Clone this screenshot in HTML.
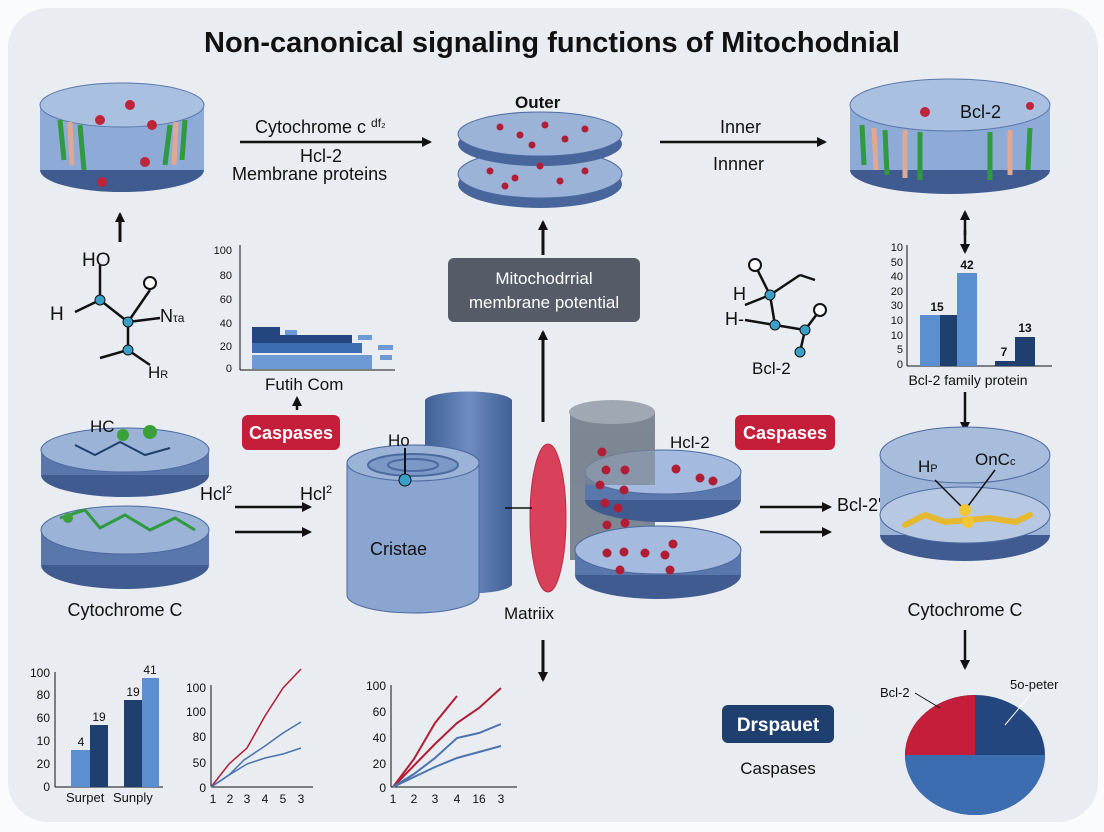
<!DOCTYPE html>
<html><head><meta charset="utf-8"><style>
html,body{margin:0;padding:0;background:#fafbfc;}
svg{display:block;font-family:"Liberation Sans",sans-serif;}
</style></head><body>
<svg width="1104" height="832" viewBox="0 0 1104 832" xmlns="http://www.w3.org/2000/svg">
<defs>
<marker id="ah" markerWidth="10" markerHeight="10" refX="8" refY="5" orient="auto" markerUnits="userSpaceOnUse"><path d="M0,0 L10,5 L0,10 z" fill="#111"/></marker>
<linearGradient id="cyl" x1="0" x2="1"><stop offset="0" stop-color="#3f5f96"/><stop offset="0.5" stop-color="#6e8cc0"/><stop offset="1" stop-color="#3f5f96"/></linearGradient>
</defs>
<rect x="8" y="8" width="1090" height="814" rx="40" fill="#e9ecf0"/>
<text x="552" y="52" text-anchor="middle" font-size="29" font-weight="bold" fill="#111">Non-canonical signaling functions of Mitochodnial</text>

<!-- top-left disc -->
<ellipse cx="122" cy="170" rx="82" ry="22" fill="#3f5b90"/>
<rect x="40" y="105" width="164" height="65" fill="#8eaad6"/>
<ellipse cx="122" cy="105" rx="82" ry="22" fill="#aac0e0" stroke="#5a77ac"/>
<g stroke="#2f9a3f" stroke-width="5"><line x1="60" y1="120" x2="64" y2="160"/><line x1="80" y1="125" x2="84" y2="170"/><line x1="170" y1="125" x2="165" y2="165"/><line x1="185" y1="120" x2="182" y2="160"/></g>
<g stroke="#e0a890" stroke-width="5"><line x1="70" y1="122" x2="72" y2="165"/><line x1="176" y1="122" x2="174" y2="165"/></g>
<g fill="#c0243a"><circle cx="100" cy="120" r="5"/><circle cx="130" cy="105" r="5"/><circle cx="152" cy="125" r="5"/><circle cx="145" cy="162" r="5"/><circle cx="102" cy="182" r="5"/></g>
<line x1="120" y1="242" x2="120" y2="214" stroke="#111" stroke-width="3" marker-end="url(#ah)"/>

<text x="255" y="133" font-size="18" fill="#111">Cytochrome c <tspan font-size="12" dy="-6">df₂</tspan></text>
<line x1="240" y1="142" x2="430" y2="142" stroke="#111" stroke-width="2.5" marker-end="url(#ah)"/>
<text x="300" y="162" font-size="18" fill="#111">Hcl-2</text>
<text x="232" y="180" font-size="18" fill="#111">Membrane  proteins</text>

<!-- outer discs -->
<text x="515" y="108" font-size="17" font-weight="bold" fill="#111">Outer</text>
<ellipse cx="540" cy="184" rx="82" ry="24" fill="#48669c"/>
<ellipse cx="540" cy="174" rx="82" ry="24" fill="#9cb3d8" stroke="#4c6aa0"/>
<ellipse cx="540" cy="144" rx="82" ry="22" fill="#48669c"/>
<ellipse cx="540" cy="134" rx="82" ry="22" fill="#9cb3d8" stroke="#4c6aa0"/>
<g fill="#b01e36"><circle cx="500" cy="127" r="3.5"/><circle cx="520" cy="135" r="3.5"/><circle cx="545" cy="125" r="3.5"/><circle cx="565" cy="139" r="3.5"/><circle cx="585" cy="129" r="3.5"/><circle cx="532" cy="145" r="3.5"/><circle cx="490" cy="171" r="3.5"/><circle cx="515" cy="178" r="3.5"/><circle cx="540" cy="166" r="3.5"/><circle cx="560" cy="181" r="3.5"/><circle cx="585" cy="171" r="3.5"/><circle cx="505" cy="186" r="3.5"/></g>

<text x="720" y="133" font-size="18" fill="#111">Inner</text>
<line x1="660" y1="142" x2="825" y2="142" stroke="#111" stroke-width="2.5" marker-end="url(#ah)"/>
<text x="713" y="170" font-size="18" fill="#111">Innner</text>

<!-- top-right disc -->
<ellipse cx="950" cy="170" rx="100" ry="24" fill="#3f5b90"/>
<rect x="850" y="105" width="200" height="65" fill="#8eaad6"/>
<ellipse cx="950" cy="105" rx="100" ry="26" fill="#aac0e0" stroke="#5a77ac"/>
<g stroke="#2f9a3f" stroke-width="5"><line x1="862" y1="125" x2="864" y2="165"/><line x1="885" y1="130" x2="887" y2="175"/><line x1="920" y1="132" x2="920" y2="180"/><line x1="990" y1="132" x2="990" y2="180"/><line x1="1030" y1="128" x2="1028" y2="170"/></g>
<g stroke="#e0a890" stroke-width="5"><line x1="874" y1="128" x2="876" y2="170"/><line x1="905" y1="130" x2="905" y2="178"/><line x1="1010" y1="130" x2="1010" y2="175"/></g>
<text x="960" y="118" font-size="18" fill="#111">Bcl-2</text>
<circle cx="925" cy="112" r="5" fill="#c0243a"/><circle cx="1030" cy="106" r="4" fill="#c0243a"/>
<line x1="965" y1="235" x2="965" y2="212" stroke="#111" stroke-width="2.5" marker-end="url(#ah)"/>
<line x1="965" y1="230" x2="965" y2="252" stroke="#111" stroke-width="2.5" marker-end="url(#ah)"/>

<!-- left molecule -->
<g stroke="#111" stroke-width="2.5" fill="none"><line x1="100" y1="265" x2="100" y2="300"/><line x1="100" y1="300" x2="75" y2="312"/><line x1="100" y1="300" x2="128" y2="322"/><line x1="128" y1="322" x2="150" y2="290"/><line x1="128" y1="322" x2="160" y2="318"/><line x1="128" y1="322" x2="128" y2="350"/><line x1="128" y1="350" x2="100" y2="358"/><line x1="128" y1="350" x2="150" y2="365"/></g>
<circle cx="100" cy="300" r="5" fill="#3aa0c8" stroke="#111"/><circle cx="128" cy="322" r="5" fill="#3aa0c8" stroke="#111"/><circle cx="128" cy="350" r="5" fill="#3aa0c8" stroke="#111"/><circle cx="150" cy="283" r="6" fill="#fff" stroke="#111" stroke-width="2"/>
<text x="82" y="266" font-size="19" fill="#111">HO</text><text x="50" y="320" font-size="19" fill="#111">H</text><text x="160" y="322" font-size="18" fill="#111">N<tspan font-size="12">τa</tspan></text><text x="148" y="378" font-size="17" fill="#111">H<tspan font-size="11">R</tspan></text>

<!-- bar chart left -->
<g font-size="11" fill="#111" text-anchor="end"><text x="232" y="254">100</text><text x="232" y="279">80</text><text x="232" y="303">60</text><text x="232" y="327">40</text><text x="232" y="350">20</text><text x="232" y="372">0</text></g>
<line x1="240" y1="245" x2="240" y2="370" stroke="#111"/><line x1="240" y1="370" x2="395" y2="370" stroke="#111"/>
<rect x="252" y="327" width="28" height="8" fill="#24467e"/><rect x="252" y="335" width="100" height="8" fill="#24467e"/><rect x="252" y="343" width="110" height="10" fill="#3b6db0"/><rect x="252" y="355" width="120" height="14" fill="#6d9ad4"/><rect x="285" y="330" width="12" height="5" fill="#6d9ad4"/><rect x="358" y="335" width="14" height="5" fill="#6d9ad4"/><rect x="378" y="345" width="15" height="5" fill="#6d9ad4"/><rect x="380" y="355" width="12" height="5" fill="#6d9ad4"/>
<text x="265" y="390" font-size="17" fill="#111">Futih Com</text>
<line x1="297" y1="410" x2="297" y2="398" stroke="#111" stroke-width="2.5" marker-end="url(#ah)"/>
<rect x="242" y="415" width="98" height="35" rx="6" fill="#c41e3a"/><text x="291" y="439" font-size="18" font-weight="bold" fill="#fff" text-anchor="middle">Caspases</text>

<!-- center box -->
<line x1="543" y1="255" x2="543" y2="222" stroke="#111" stroke-width="3" marker-end="url(#ah)"/>
<rect x="448" y="258" width="192" height="64" rx="6" fill="#555c68"/>
<text x="544" y="284" font-size="17" fill="#fff" text-anchor="middle">Mitochodrrial</text>
<text x="544" y="308" font-size="17" fill="#fff" text-anchor="middle">membrane potential</text>
<line x1="543" y1="422" x2="543" y2="332" stroke="#111" stroke-width="3" marker-end="url(#ah)"/>

<!-- right molecule -->
<g stroke="#111" stroke-width="2.5"><line x1="755" y1="265" x2="770" y2="295"/><line x1="770" y1="295" x2="800" y2="275"/><line x1="770" y1="295" x2="745" y2="305"/><line x1="770" y1="295" x2="775" y2="325"/><line x1="775" y1="325" x2="745" y2="320"/><line x1="775" y1="325" x2="805" y2="330"/><line x1="805" y1="330" x2="820" y2="310"/><line x1="805" y1="330" x2="800" y2="352"/><line x1="800" y1="275" x2="815" y2="280"/></g>
<circle cx="755" cy="265" r="6" fill="#fff" stroke="#111" stroke-width="2"/><circle cx="770" cy="295" r="5" fill="#3aa0c8" stroke="#111"/><circle cx="775" cy="325" r="5" fill="#3aa0c8" stroke="#111"/><circle cx="805" cy="330" r="5" fill="#3aa0c8" stroke="#111"/><circle cx="820" cy="310" r="6" fill="#fff" stroke="#111" stroke-width="2"/><circle cx="800" cy="352" r="5" fill="#3aa0c8" stroke="#111"/>
<text x="733" y="300" font-size="18" fill="#111">H</text><text x="725" y="325" font-size="18" fill="#111">H-</text><text x="752" y="374" font-size="17" fill="#111">Bcl-2</text>

<!-- right bar chart -->
<g font-size="11" fill="#111" text-anchor="end"><text x="903" y="251">10</text><text x="903" y="266">50</text><text x="903" y="280">40</text><text x="903" y="295">20</text><text x="903" y="309">30</text><text x="903" y="324">10</text><text x="903" y="339">10</text><text x="903" y="353">5</text><text x="903" y="368">0</text></g>
<line x1="907" y1="245" x2="907" y2="366" stroke="#111"/><line x1="907" y1="366" x2="1052" y2="366" stroke="#111"/>
<rect x="920" y="315" width="20" height="51" fill="#5b8fd0"/><rect x="940" y="315" width="17" height="51" fill="#1f3f6e"/><rect x="957" y="273" width="20" height="93" fill="#5b8fd0"/><rect x="995" y="361" width="20" height="5" fill="#1f3f6e"/><rect x="1015" y="337" width="20" height="29" fill="#1f3f6e"/>
<g font-size="12" font-weight="bold" fill="#111" text-anchor="middle"><text x="937" y="311">15</text><text x="967" y="269">42</text><text x="1004" y="356">7</text><text x="1025" y="332">13</text></g>
<text x="968" y="385" font-size="14" fill="#111" text-anchor="middle">Bcl-2 family protein</text>
<line x1="965" y1="392" x2="965" y2="430" stroke="#111" stroke-width="2.5" marker-end="url(#ah)"/>
<rect x="735" y="415" width="100" height="35" rx="6" fill="#c41e3a"/><text x="785" y="439" font-size="18" font-weight="bold" fill="#fff" text-anchor="middle">Caspases</text>

<!-- left stacked discs -->
<ellipse cx="125" cy="565" rx="84" ry="24" fill="#3f5b90"/><rect x="41" y="530" width="168" height="35" fill="#5a77ac"/><ellipse cx="125" cy="530" rx="84" ry="24" fill="#9cb3d8" stroke="#4c6aa0"/>
<ellipse cx="125" cy="475" rx="84" ry="22" fill="#3f5b90"/><rect x="41" y="450" width="168" height="25" fill="#5a77ac"/><ellipse cx="125" cy="450" rx="84" ry="22" fill="#9cb3d8" stroke="#4c6aa0"/>
<polyline points="60,518 85,510 100,528 125,515 150,530 175,518 195,530" fill="none" stroke="#2f9a3f" stroke-width="3"/>
<polyline points="75,445 95,455 120,442 145,455 170,448" fill="none" stroke="#1f3f6e" stroke-width="2"/>
<circle cx="68" cy="518" r="5" fill="#3aa03a"/><circle cx="150" cy="432" r="7" fill="#3aa03a"/><circle cx="123" cy="435" r="6" fill="#3aa03a"/>
<text x="90" y="432" font-size="17" fill="#111">HC</text>
<text x="125" y="616" font-size="18" fill="#111" text-anchor="middle">Cytochrome C</text>

<text x="200" y="500" font-size="18" fill="#111">Hcl<tspan font-size="11" dy="-7">2</tspan></text>
<text x="300" y="500" font-size="18" fill="#111">Hcl<tspan font-size="11" dy="-7">2</tspan></text>
<line x1="235" y1="507" x2="310" y2="507" stroke="#111" stroke-width="2.5" marker-end="url(#ah)"/>
<line x1="235" y1="532" x2="310" y2="532" stroke="#111" stroke-width="2.5" marker-end="url(#ah)"/>

<!-- center cylinders -->
<path d="M425,400 A44,10 0 0 1 512,400 L512,585 A44,10 0 0 1 425,585 Z" fill="url(#cyl)"/>
<path d="M347,463 A66,18 0 0 1 479,463 L479,595 A66,18 0 0 1 347,595 Z" fill="#8aa5d0" stroke="#4c6aa0"/>
<ellipse cx="413" cy="463" rx="66" ry="18" fill="#9cb3d8" stroke="#4c6aa0"/>
<ellipse cx="413" cy="465" rx="45" ry="11" fill="#7c98c6" stroke="#4c6aa0" stroke-width="2"/><ellipse cx="413" cy="465" rx="25" ry="6" fill="none" stroke="#4c6aa0" stroke-width="2"/>
<line x1="405" y1="448" x2="405" y2="478" stroke="#111" stroke-width="2"/><circle cx="405" cy="480" r="6" fill="#3aa0c8" stroke="#111"/>
<text x="388" y="446" font-size="17" fill="#111">Ho</text>
<text x="370" y="555" font-size="18" fill="#111">Cristae</text>
<path d="M570,412 L655,412 L655,560 L570,560 Z" fill="#7e8794"/>
<ellipse cx="612" cy="412" rx="43" ry="12" fill="#a0a8b3"/>
<ellipse cx="658" cy="575" rx="83" ry="24" fill="#3f5b90"/><rect x="575" y="550" width="166" height="25" fill="#5a77ac"/><ellipse cx="658" cy="550" rx="83" ry="24" fill="#a4bade" stroke="#4c6aa0"/>
<ellipse cx="663" cy="500" rx="78" ry="22" fill="#3f5b90"/><rect x="585" y="472" width="156" height="28" fill="#5a77ac"/><ellipse cx="663" cy="472" rx="78" ry="22" fill="#a4bade" stroke="#4c6aa0"/>
<path d="M570,430 L655,430 L655,485 L570,485 Z" fill="#7e8794" opacity="0.7"/>
<ellipse cx="548" cy="518" rx="18" ry="74" fill="#d9405a" stroke="#b8304a"/>
<line x1="505" y1="508" x2="532" y2="508" stroke="#111" stroke-width="1.5"/>
<g fill="#b01e36"><circle cx="602" cy="452" r="4.5"/><circle cx="606" cy="470" r="4.5"/><circle cx="625" cy="470" r="4.5"/><circle cx="600" cy="485" r="4.5"/><circle cx="624" cy="490" r="4.5"/><circle cx="605" cy="503" r="4.5"/><circle cx="618" cy="508" r="4.5"/><circle cx="607" cy="525" r="4.5"/><circle cx="625" cy="523" r="4.5"/><circle cx="700" cy="478" r="4.5"/><circle cx="713" cy="481" r="4.5"/><circle cx="676" cy="469" r="4.5"/><circle cx="607" cy="553" r="4.5"/><circle cx="624" cy="552" r="4.5"/><circle cx="645" cy="553" r="4.5"/><circle cx="665" cy="555" r="4.5"/><circle cx="620" cy="570" r="4.5"/><circle cx="670" cy="570" r="4.5"/><circle cx="673" cy="544" r="4.5"/></g>
<text x="670" y="448" font-size="17" fill="#111">Hcl-2</text>
<text x="504" y="619" font-size="17" fill="#111">Matriix</text>
<line x1="543" y1="640" x2="543" y2="680" stroke="#111" stroke-width="3" marker-end="url(#ah)"/>

<line x1="760" y1="507" x2="830" y2="507" stroke="#111" stroke-width="2.5" marker-end="url(#ah)"/>
<line x1="760" y1="532" x2="830" y2="532" stroke="#111" stroke-width="2.5" marker-end="url(#ah)"/>
<text x="837" y="511" font-size="18" fill="#111">Bcl-2'</text>

<!-- right disc -->
<ellipse cx="965" cy="535" rx="85" ry="26" fill="#3f5b90"/><rect x="880" y="455" width="170" height="80" fill="#9cb3d8"/><ellipse cx="965" cy="515" rx="85" ry="28" fill="#b7c8e2" stroke="#4c6aa0"/><ellipse cx="965" cy="455" rx="85" ry="28" fill="#a8bcdc" stroke="#4c6aa0"/>
<polyline points="905,525 925,515 945,522 968,520 990,518 1015,522 1030,515" fill="none" stroke="#e6b830" stroke-width="6" stroke-linecap="round"/>
<line x1="935" y1="480" x2="965" y2="510" stroke="#111" stroke-width="1.5"/><line x1="995" y1="470" x2="965" y2="510" stroke="#111" stroke-width="1.5"/>
<circle cx="965" cy="510" r="6" fill="#f2c534"/><circle cx="968" cy="522" r="6" fill="#f2c534"/>
<text x="918" y="472" font-size="17" fill="#111">H<tspan font-size="11">P</tspan></text><text x="975" y="465" font-size="17" fill="#111">OnC<tspan font-size="11">c</tspan></text>
<text x="965" y="616" font-size="18" fill="#111" text-anchor="middle">Cytochrome C</text>
<line x1="965" y1="630" x2="965" y2="668" stroke="#111" stroke-width="2.5" marker-end="url(#ah)"/>

<!-- bottom-left bar chart -->
<g font-size="12" fill="#111" text-anchor="end"><text x="50" y="677">100</text><text x="50" y="699">80</text><text x="50" y="722">60</text><text x="50" y="745">10</text><text x="50" y="768">20</text><text x="50" y="791">0</text></g>
<line x1="55" y1="672" x2="55" y2="787" stroke="#111"/><line x1="55" y1="787" x2="163" y2="787" stroke="#111"/>
<rect x="71" y="750" width="19" height="37" fill="#5b8fd0"/><rect x="90" y="725" width="18" height="62" fill="#1f3f6e"/><rect x="124" y="700" width="18" height="87" fill="#1f3f6e"/><rect x="142" y="678" width="17" height="109" fill="#5b8fd0"/>
<g font-size="12" fill="#111" text-anchor="middle"><text x="81" y="746">4</text><text x="99" y="721">19</text><text x="133" y="696">19</text><text x="150" y="674">41</text></g>
<text x="66" y="802" font-size="13" fill="#111">Surpet</text><text x="113" y="802" font-size="13" fill="#111">Sunply</text>

<!-- line chart 1 -->
<g font-size="12" fill="#111" text-anchor="end"><text x="206" y="692">100</text><text x="206" y="716">100</text><text x="206" y="741">80</text><text x="206" y="767">50</text><text x="206" y="792">0</text></g>
<line x1="211" y1="685" x2="211" y2="787" stroke="#111"/><line x1="211" y1="787" x2="313" y2="787" stroke="#111"/>
<g font-size="12" fill="#111" text-anchor="middle"><text x="213" y="803">1</text><text x="230" y="803">2</text><text x="247" y="803">3</text><text x="265" y="803">4</text><text x="283" y="803">5</text><text x="301" y="803">3</text></g>
<polyline points="211,787 229,764 247,748 265,716 283,688 301,669" fill="none" stroke="#b01e36" stroke-width="1.5"/>
<polyline points="211,787 229,775 244,760 265,746 276,738 283,733 301,722" fill="none" stroke="#4a73b0" stroke-width="1.5"/>
<polyline points="211,787 229,775 247,764 265,758 283,754 301,748" fill="none" stroke="#4a73b0" stroke-width="1.5"/>

<!-- line chart 2 -->
<g font-size="12" fill="#111" text-anchor="end"><text x="386" y="690">100</text><text x="386" y="716">60</text><text x="386" y="742">40</text><text x="386" y="768">20</text><text x="386" y="792">0</text></g>
<line x1="391" y1="685" x2="391" y2="787" stroke="#111"/><line x1="391" y1="787" x2="517" y2="787" stroke="#111"/>
<g font-size="12" fill="#111" text-anchor="middle"><text x="393" y="803">1</text><text x="414" y="803">2</text><text x="435" y="803">3</text><text x="457" y="803">4</text><text x="479" y="803">16</text><text x="501" y="803">3</text></g>
<polyline points="393,787 414,759 435,723 457,696" fill="none" stroke="#b01e36" stroke-width="2"/>
<polyline points="393,787 435,744 457,723 479,708 501,688" fill="none" stroke="#b01e36" stroke-width="2"/>
<polyline points="393,787 414,774 435,758 457,738 479,733 501,724" fill="none" stroke="#4a73b0" stroke-width="2"/>
<polyline points="393,787 414,777 435,767 457,758 479,752 501,746" fill="none" stroke="#4a73b0" stroke-width="2"/>

<!-- Drspauet -->
<rect x="722" y="705" width="112" height="38" rx="6" fill="#1f3f6e"/><text x="778" y="731" font-size="19" font-weight="bold" fill="#fff" text-anchor="middle">Drspauet</text>
<text x="778" y="774" font-size="17" fill="#111" text-anchor="middle">Caspases</text>

<!-- pie -->
<ellipse cx="975" cy="755" rx="70" ry="60" fill="#24467e"/>
<path d="M975,755 L975,695 A70,60 0 0 0 905,755 Z" fill="#c41e3a"/>
<path d="M905,755 A70,60 0 0 0 1045,755 L975,755 Z" fill="#3b6db0"/>
<text x="880" y="697" font-size="13" fill="#111">Bcl-2</text><text x="1010" y="689" font-size="13" fill="#111">5o-peter</text>
<line x1="915" y1="693" x2="940" y2="708" stroke="#111"/><line x1="1030" y1="695" x2="1005" y2="725" stroke="#fff"/>
</svg>
</body></html>
